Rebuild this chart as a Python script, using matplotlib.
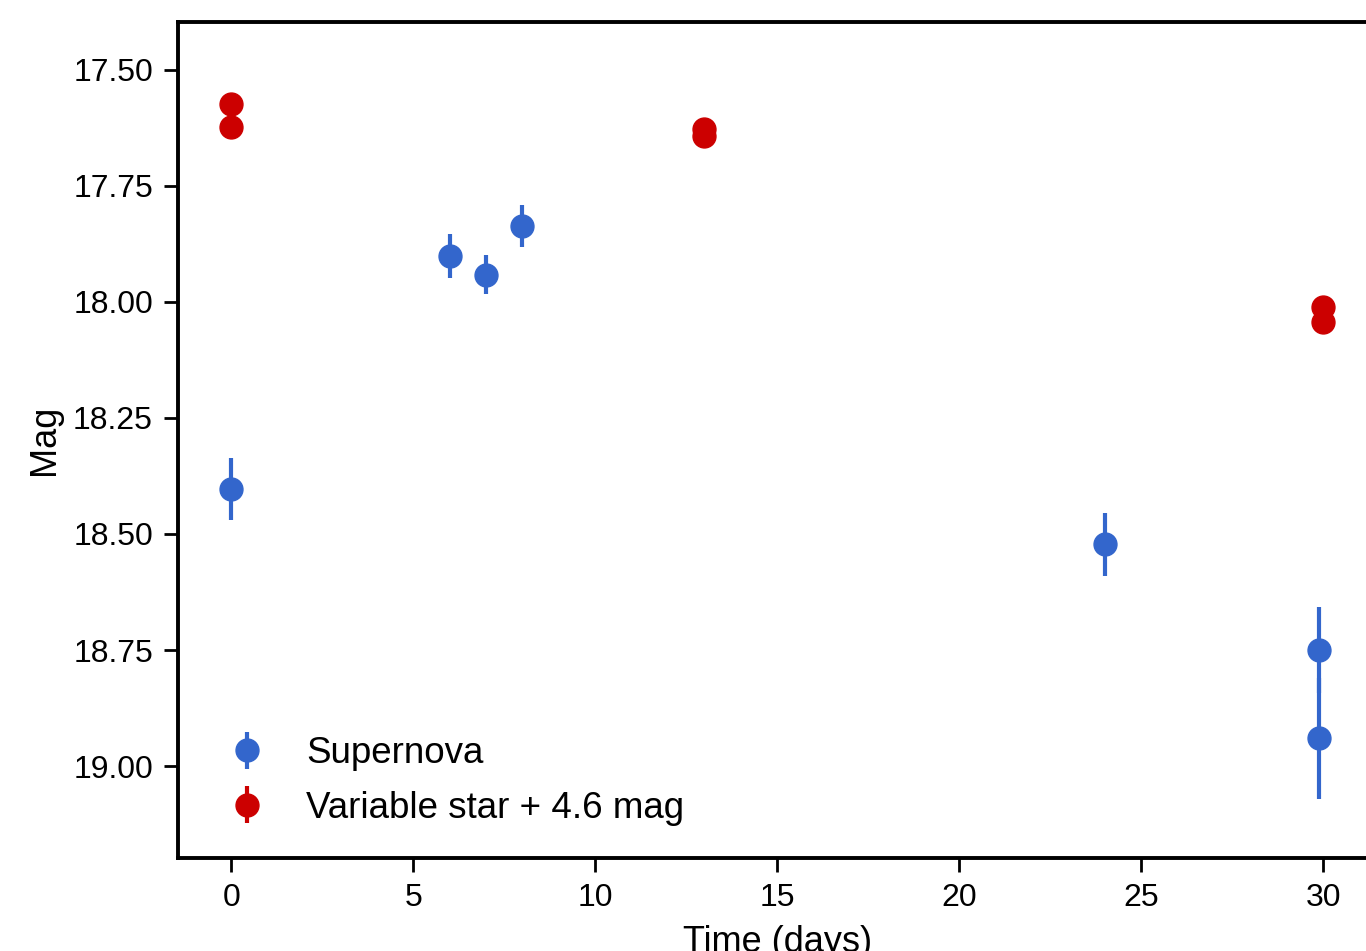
import numpy as np
import matplotlib
matplotlib.use("Agg")
import matplotlib.pyplot as plt

# Supernova light curve
sn_t = [0, 6, 7, 8, 24, 29.9, 29.9]
sn_mag = [18.403, 17.901, 17.942, 17.836, 18.522, 18.750, 18.940]
sn_err = [0.066, 0.048, 0.042, 0.045, 0.068, 0.093, 0.130]

# Variable star (shifted by +4.6 mag)
vs_t = [0, 0, 13, 13, 30, 30]
vs_mag = [17.573, 17.623, 17.627, 17.642, 18.011, 18.043]
vs_err = [0.010, 0.010, 0.010, 0.010, 0.018, 0.012]

plt.rcParams['font.family'] = ['Liberation Sans', 'DejaVu Sans']

fig = plt.figure(figsize=(13.66, 9.51), dpi=100)
ax = fig.add_axes([0.1303, 0.0978, 0.8772, 0.8791])

ax.errorbar(sn_t, sn_mag, yerr=sn_err, fmt='o', color='#3366CC', ms=16.5,
            elinewidth=3, capsize=0, label='Supernova')
ax.errorbar(vs_t, vs_mag, yerr=vs_err, fmt='o', color='#CC0000', ms=16.5,
            elinewidth=3, capsize=0, label='Variable star + 4.6 mag')

ax.set_xlim(-1.46, 31.46)
ax.set_ylim(19.198, 17.397)
ax.set_yticks([17.5, 17.75, 18.0, 18.25, 18.5, 18.75, 19.0])
ax.set_yticklabels(['17.50', '17.75', '18.00', '18.25', '18.50', '18.75', '19.00'])
ax.set_xticks([0, 5, 10, 15, 20, 25, 30])

for s in ax.spines.values():
    s.set_linewidth(2.8)
ax.tick_params(labelsize=23, width=2, length=10, pad=8)

ax.set_xlabel('Time (days)', fontsize=26, labelpad=9)
ax.set_ylabel('Mag', fontsize=26, labelpad=8)

ax.legend(loc='lower left', frameon=False, fontsize=26.5, handletextpad=0.6,
          borderaxespad=0.48, labelspacing=0.53)

fig.savefig('out.png', dpi=100)
